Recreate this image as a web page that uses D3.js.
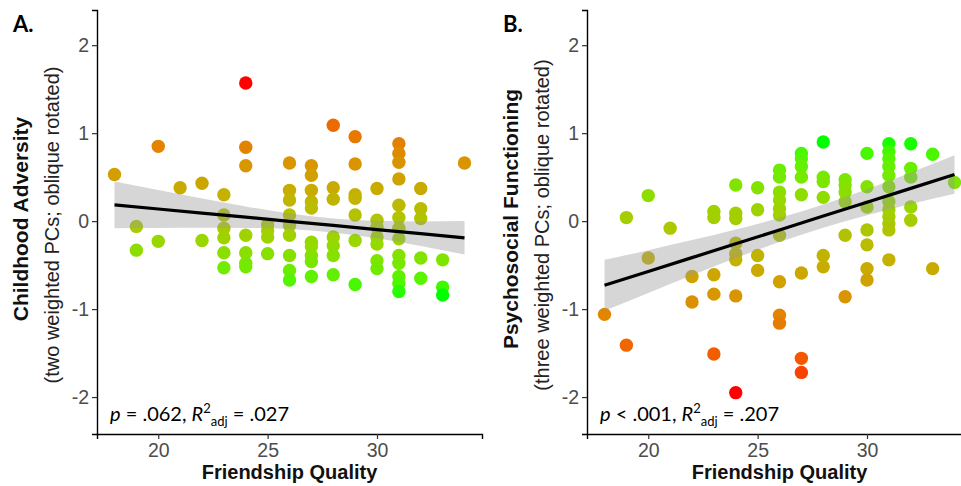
<!DOCTYPE html>
<html>
<head>
<meta charset="utf-8">
<script src="https://cdn.jsdelivr.net/npm/d3@7"></script>
<style>
  body { margin: 0; background: #fff; }
  svg { display: block; }
  .tick text { font-family: "Liberation Sans", Arial, sans-serif; font-size: 19.5px; fill: #4d4d4d; }
</style>
</head>
<body>
<div id="chart"></div>
<script>
// friendship quality score for every participant (panel A)
const friendshipA = [
  18, 19, 19, 20, 20, 21, 22, 22,
  23, 23, 23, 23, 23, 23,
  24, 24, 24, 24, 24, 24, 24,
  25, 25, 25, 25,
  26, 26, 26, 26, 26, 26, 26, 26, 26,
  27, 27, 27, 27, 27, 27, 27, 27, 27, 27,
  28, 28, 28, 28, 28, 28, 28,
  29, 29, 29, 29, 29, 29, 29,
  30, 30, 30, 30, 30, 30, 30,
  31, 31, 31, 31, 31, 31, 31, 31, 31, 31, 31, 31, 31,
  32, 32, 32, 32, 32,
  33, 33, 33,
  34,
];
const adversity = [
  0.53, -0.06, -0.33, 0.85, -0.23, 0.38, 0.43, -0.22,
  0.30, 0.07, -0.08, -0.19, -0.36, -0.53,
  1.57, 0.84, 0.63, -0.16, -0.36, -0.48, -0.52,
  -0.04, -0.11, -0.18, -0.37,
  0.66, 0.35, 0.24, 0.07, -0.05, -0.16, -0.39, -0.56, -0.67,
  0.63, 0.52, 0.35, 0.22, 0.15, -0.24, -0.29, -0.39, -0.46, -0.63,
  1.09, 0.38, 0.25, -0.18, -0.28, -0.39, -0.61,
  0.96, 0.65, 0.30, 0.26, 0.07, -0.22, -0.72,
  0.37, 0.01, -0.07, -0.18, -0.26, -0.45, -0.54,
  0.88, 0.77, 0.67, 0.48, 0.18, 0.04, -0.08, -0.20, -0.39, -0.48, -0.63, -0.71, -0.80,
  0.37, 0.14, 0.03, -0.42, -0.65,
  -0.44, -0.75, -0.84,
  0.66,
];

// panel B
const friendshipB = [
  18, 19, 19, 20, 20, 21, 22, 22,
  23, 23, 23, 23, 23,
  24, 24, 24, 24, 24, 24, 24, 24,
  25, 25, 25, 25,
  26, 26, 26, 26, 26, 26, 26, 26, 26, 26,
  27, 27, 27, 27, 27, 27, 27, 27,
  28, 28, 28, 28, 28, 28,
  29, 29, 29, 29, 29, 29,
  30, 30, 30, 30, 30, 30, 30,
  31, 31, 31, 31, 31, 31, 31, 31, 31, 31, 31, 31,
  32, 32, 32, 32, 32,
  33, 33,
  34,
];
const functioning = [
  -1.06, 0.04, -1.41, 0.29, -0.42, -0.08, -0.63, -0.92,
  0.11, 0.04, -0.61, -0.83, -1.51,
  0.41, 0.09, 0.03, -0.25, -0.37, -0.44, -0.85, -1.95,
  0.38, 0.13, -0.39, -0.56,
  0.58, 0.50, 0.33, 0.24, 0.14, 0.07, -0.16, -0.69, -1.07, -1.16,
  0.77, 0.71, 0.62, 0.50, 0.30, -0.59, -1.56, -1.72,
  0.90, 0.50, 0.45, 0.27, -0.39, -0.52,
  0.47, 0.41, 0.33, 0.22, -0.16, -0.86,
  0.77, 0.39, 0.16, -0.10, -0.27, -0.54, -0.67,
  0.88, 0.79, 0.71, 0.62, 0.52, 0.39, 0.22, 0.13, 0.05, -0.03, -0.10, -0.44,
  0.88, 0.60, 0.50, 0.16, 0.01,
  0.76, -0.54,
  0.44,
];

// linear fit and its 95% band
const fitX = [18, 20, 22, 24, 26, 28, 30, 32, 34];
const fitA = [0.185, 0.138, 0.091, 0.045, -0.002, -0.049, -0.096, -0.143, -0.19];
const upperA = [0.45, 0.353, 0.257, 0.167, 0.086, 0.03, 0.004, -0.005, 0.0];
const lowerA = [-0.08, -0.077, -0.075, -0.077, -0.09, -0.13, -0.196, -0.283, -0.38];
const fitB = [-0.73, -0.5725, -0.415, -0.2575, -0.10, 0.0575, 0.215, 0.3725, 0.53];
const upperB = [-0.44, -0.33, -0.216, -0.096, 0.037, 0.189, 0.362, 0.552, 0.75];
const lowerB = [-1.02, -0.816, -0.614, -0.42, -0.237, -0.074, 0.068, 0.194, 0.31];

const xTicks = [20, 25, 30];
const yTicks = [-2, -1, 0, 1, 2];

const width = 961;
const height = 486;
const plotTop = 10;
const plotBottom = 434;
const panelWidth = 385;

const svg = d3.select('#chart').append('svg')
  .attr('width', width)
  .attr('height', height);

function drawPanel({
  left, xs, ys, lowColor, highColor, fit, lower, upper,
  letter, title, subtitle, pText, r2Text,
}) {
  const g = svg.append('g');

  const x = d3.scaleLinear().domain([17.2, 34.8]).range([left, left + panelWidth]);
  const y = d3.scaleLinear().domain([-2.42, 2.40]).range([plotBottom, plotTop]);
  // ggplot style gradient, interpolated in Lab space
  const color = d3.scaleLinear()
    .domain(d3.extent(ys))
    .range([lowColor, highColor])
    .interpolate(d3.interpolateLab);

  // points first, the smoother band sits on top of them
  g.append('g').selectAll('circle')
    .data(xs.map((v, i) => ({ x: v, y: ys[i] })))
    .join('circle')
    .attr('cx', d => x(d.x))
    .attr('cy', d => y(d.y))
    .attr('r', 6.7)
    .attr('fill', d => color(d.y));

  const band = fitX.map((v, i) => ({ x: v, lo: lower[i], hi: upper[i], fit: fit[i] }));
  g.append('path')
    .datum(band)
    .attr('fill', '#999999')
    .attr('fill-opacity', 0.4)
    .attr('d', d3.area().curve(d3.curveMonotoneX)
      .x(d => x(d.x)).y0(d => y(d.lo)).y1(d => y(d.hi)));
  g.append('path')
    .datum(band)
    .attr('fill', 'none')
    .attr('stroke', '#000')
    .attr('stroke-width', 3.2)
    .attr('d', d3.line().x(d => x(d.x)).y(d => y(d.fit)));

  // axes
  const xAxis = g.append('g')
    .attr('transform', `translate(0,${plotBottom})`)
    .call(d3.axisBottom(x).tickValues(xTicks).tickSize(5).tickPadding(4));
  const yAxis = g.append('g')
    .attr('transform', `translate(${left},0)`)
    .call(d3.axisLeft(y).tickValues(yTicks).tickSize(5).tickPadding(3));
  [xAxis, yAxis].forEach((ax) => {
    ax.select('.domain').attr('stroke', '#000').attr('stroke-width', 1.4);
    ax.selectAll('.tick line').attr('stroke', '#333').attr('stroke-width', 1.2);
  });
  // plain hyphen like the original labels
  yAxis.selectAll('.tick text').text(d => String(d));

  // titles
  g.append('text')
    .attr('x', left + panelWidth / 2)
    .attr('y', 479)
    .attr('text-anchor', 'middle')
    .attr('font-family', '"Liberation Sans", Arial, sans-serif')
    .attr('font-weight', 'bold')
    .attr('font-size', 20)
    .attr('fill', '#111')
    .text('Friendship Quality');

  g.append('text')
    .attr('transform', `translate(${left - 69},219) rotate(-90)`)
    .attr('text-anchor', 'middle')
    .attr('font-family', '"Liberation Sans", Arial, sans-serif')
    .attr('font-weight', 'bold')
    .attr('font-size', 21)
    .attr('fill', '#111')
    .text(title);
  g.append('text')
    .attr('transform', `translate(${left - 38},225) rotate(-90)`)
    .attr('text-anchor', 'middle')
    .attr('font-family', '"Liberation Sans", Arial, sans-serif')
    .attr('font-size', 20)
    .attr('fill', '#222')
    .text(subtitle);

  g.append('text')
    .attr('x', left - 84)
    .attr('y', 32)
    .attr('font-family', 'Lato, "Open Sans", sans-serif')
    .attr('font-weight', 'bold')
    .attr('font-size', 22)
    .attr('fill', '#000')
    .text(letter);

  // p and adjusted R squared
  const note = g.append('text')
    .attr('x', left + 13)
    .attr('y', 421)
    .attr('font-family', 'Lato, "Open Sans", sans-serif')
    .attr('font-size', 20)
    .attr('fill', '#000');
  note.append('tspan').attr('font-style', 'italic').text('p');
  note.append('tspan').text(` ${pText}, `);
  note.append('tspan').attr('font-style', 'italic').text('R');
  note.append('tspan').attr('font-size', 13).attr('dy', -8).text('2');
  note.append('tspan').attr('font-size', 13).attr('dy', 13).text('adj');
  note.append('tspan').attr('dy', -5).text(` = ${r2Text}`);
}

drawPanel({
  left: 97,
  xs: friendshipA,
  ys: adversity,
  lowColor: '#00ff00',
  highColor: '#ff0000',
  fit: fitA,
  lower: lowerA,
  upper: upperA,
  letter: 'A.',
  title: 'Childhood Adversity',
  subtitle: '(two weighted PCs; oblique rotated)',
  pText: '= .062',
  r2Text: '.027',
});

drawPanel({
  left: 587,
  xs: friendshipB,
  ys: functioning,
  lowColor: '#ff0000',
  highColor: '#00ff00',
  fit: fitB,
  lower: lowerB,
  upper: upperB,
  letter: 'B.',
  title: 'Psychosocial Functioning',
  subtitle: '(three weighted PCs; oblique rotated)',
  pText: '< .001',
  r2Text: '.207',
});
</script>
</body>
</html>
